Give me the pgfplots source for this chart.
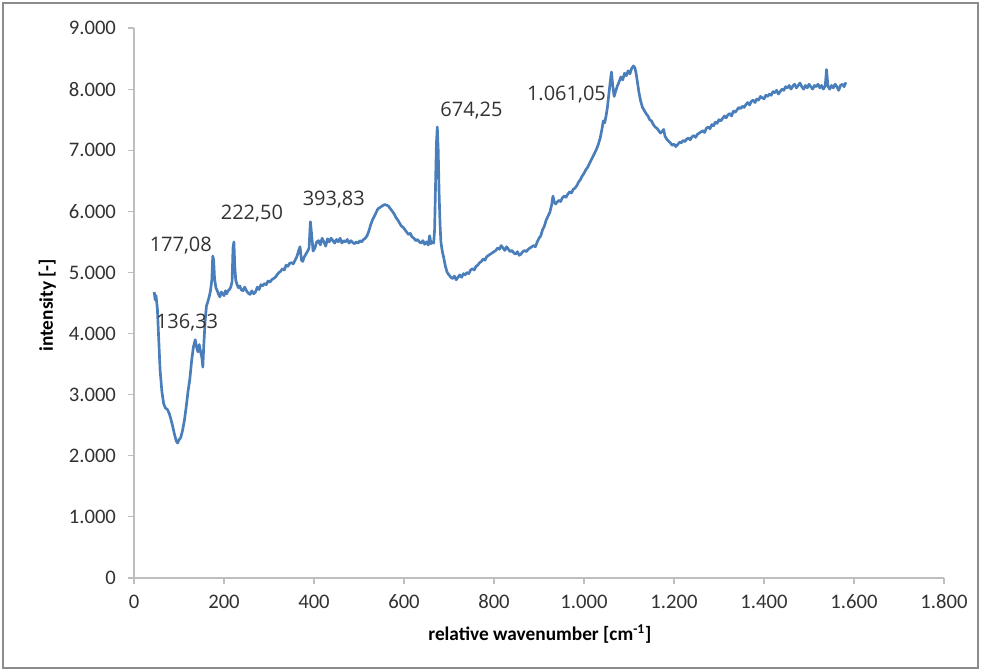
\documentclass[border=0pt]{standalone}
\usepackage{pgfplots}
\pgfplotsset{compat=1.18}
\usepackage{fontspec}
\setmainfont{Carlito}
\newfontfamily\annfont{Open Sans}
\definecolor{excelblue}{RGB}{74,126,187}
\definecolor{axgray}{RGB}{190,190,190}
\definecolor{txt}{RGB}{50,50,50}
\begin{document}
\begin{tikzpicture}
\useasboundingbox (-100.5pt,-69.75pt) rectangle (635.25pt,433.5pt);
\draw[black!45, line width=0.8pt] (-98.25pt,-67.5pt) rectangle (633pt,431.25pt);
\begin{axis}[
  at={(0pt,0pt)}, anchor=origin,
  scale only axis,
  width=607.5pt, height=412.5pt,
  xmin=0, xmax=1800, ymin=0, ymax=9000,
  xtick={0,200,...,1800}, ytick={0,1000,...,9000},
  axis x line*=bottom, axis y line*=left,
  axis line style={axgray, line width=0.8pt, -},
  tick style={axgray, line width=0.8pt},
  tick align=outside, major tick length=4.5pt,
  /pgf/number format/.cd, fixed, use comma, 1000 sep={.}, assume math mode=true,
  /pgfplots/.cd,
  ticklabel style={font=\fontsize{15.5}{18}\selectfont, text=txt},
  yticklabel style={xshift=-5.5pt},
  xticklabel style={yshift=-4.5pt},
  xlabel={relative wavenumber [cm\textsuperscript{-1}]},
  ylabel={intensity [-]},
  label style={font=\bfseries\fontsize{14.5}{17}\selectfont, text=black},
  xlabel style={at={(axis description cs:0.501,-0.102)}, anchor=center},
  ylabel style={at={(axis description cs:-0.107,0.496)}, anchor=center},
  clip=false,
]
\addplot[excelblue, line width=2pt, line join=round] table {
x y
45 4680
47 4550
49 4620
52 4400
55 3900
58 3400
62 3050
66 2850
70 2780
74 2760
78 2700
82 2600
86 2480
90 2350
94 2240
97 2210
100 2260
104 2300
108 2420
112 2580
116 2800
120 3050
124 3250
128 3550
132 3780
136 3900
139 3780
142 3700
145 3820
148 3700
151 3600
153 3450
155 3800
158 4200
161 4450
164 4520
167 4600
170 4700
173 4880
175 5270
177 5200
179 4900
182 4750
185 4700
188 4640
191 4600
194 4680
197 4650
200 4620
203 4700
206 4650
209 4700
212 4720
215 4760
218 4850
220 5400
222 5500
224 5100
226 4880
229 4800
232 4750
235 4780
238 4720
242 4700
246 4760
250 4700
254 4660
258 4640
262 4700
266 4650
270 4680
274 4760
278 4720
282 4800
286 4780
290 4820
294 4800
298 4860
302 4840
306 4880
310 4900
314 4920
318 4960
322 5000
326 5020
330 5060
334 5040
338 5120
342 5100
346 5150
350 5160
354 5140
358 5200
362 5260
366 5360
369 5420
372 5200
375 5180
378 5250
382 5300
386 5350
389 5400
392 5830
395 5600
398 5350
402 5400
406 5500
410 5520
414 5450
418 5560
422 5500
426 5430
430 5550
434 5500
438 5560
442 5520
446 5480
450 5540
454 5500
458 5560
462 5480
466 5520
470 5500
474 5540
478 5480
482 5520
486 5490
490 5470
494 5500
498 5480
502 5520
506 5500
510 5540
514 5560
518 5600
522 5680
526 5780
530 5860
534 5920
538 5980
542 6040
546 6060
550 6080
554 6100
558 6110
562 6100
566 6080
570 6040
574 6000
578 5960
582 5900
586 5860
590 5810
594 5760
598 5740
602 5700
606 5660
610 5620
614 5640
618 5580
622 5560
626 5520
630 5540
634 5500
638 5480
642 5520
646 5460
650 5500
654 5450
657 5600
660 5470
663 5500
666 5480
668 5700
670 6400
672 7100
674 7380
676 7000
678 6300
680 5800
682 5500
685 5350
688 5250
692 5100
696 5000
700 4960
704 4920
708 4900
712 4940
716 4880
720 4920
724 4960
728 4920
732 4980
736 4960
740 5000
744 4980
748 5040
752 5060
756 5040
760 5100
764 5120
768 5160
772 5180
776 5220
780 5200
784 5260
788 5280
792 5300
796 5320
800 5340
804 5360
808 5400
812 5380
816 5440
820 5400
824 5360
828 5420
832 5380
836 5340
840 5360
844 5320
848 5300
852 5340
856 5280
860 5300
864 5340
868 5360
872 5340
876 5380
880 5400
884 5420
888 5440
892 5420
896 5500
900 5560
904 5600
908 5700
912 5760
916 5860
920 5920
924 5980
928 6100
931 6250
934 6150
937 6120
940 6150
944 6180
948 6160
952 6220
956 6250
960 6230
964 6280
968 6320
972 6300
976 6360
980 6380
984 6420
988 6480
992 6520
996 6580
1000 6620
1004 6680
1008 6720
1012 6780
1016 6840
1020 6900
1024 6960
1028 7020
1032 7100
1036 7200
1040 7350
1043 7480
1046 7450
1049 7560
1052 7700
1055 7900
1058 8100
1061 8280
1064 8050
1067 7880
1070 7960
1074 8050
1078 8120
1082 8200
1086 8150
1090 8260
1094 8220
1098 8300
1102 8250
1106 8340
1110 8380
1113 8350
1116 8250
1119 8100
1122 7950
1126 7800
1130 7700
1134 7650
1138 7600
1142 7560
1146 7500
1150 7480
1154 7420
1158 7380
1162 7360
1166 7320
1170 7280
1174 7310
1177 7340
1180 7230
1184 7180
1188 7150
1192 7120
1196 7080
1200 7100
1204 7060
1208 7090
1212 7130
1216 7120
1220 7160
1224 7140
1228 7180
1232 7200
1236 7170
1240 7220
1244 7240
1248 7210
1252 7260
1256 7280
1260 7300
1264 7320
1268 7290
1272 7360
1276 7380
1280 7350
1284 7420
1288 7400
1292 7460
1296 7440
1300 7500
1304 7480
1308 7520
1312 7560
1316 7530
1320 7580
1324 7600
1328 7560
1332 7640
1336 7620
1340 7660
1344 7700
1348 7680
1352 7720
1356 7700
1360 7750
1364 7780
1368 7740
1372 7800
1376 7820
1380 7780
1384 7840
1388 7820
1392 7880
1396 7860
1400 7840
1404 7900
1408 7880
1412 7920
1416 7900
1420 7960
1424 7940
1428 7980
1432 7920
1436 7960
1440 8000
1444 7980
1448 8040
1452 8020
1456 8060
1460 8000
1464 8050
1468 8080
1472 8020
1476 8060
1480 8100
1484 8040
1488 8000
1492 8060
1496 8020
1500 8080
1504 8040
1508 8000
1512 8060
1516 8040
1520 8080
1524 8020
1528 8060
1532 8000
1536 8050
1539 8320
1542 8050
1546 8000
1550 8060
1554 8020
1558 8080
1562 8040
1566 7980
1570 8060
1574 8080
1578 8040
1582 8110
};
\begin{scope}[every node/.style={font=\annfont\fontsize{15}{18}\selectfont, text=txt, inner sep=0pt}]
\node at (axis cs:118,4175) {136,33};
\node at (axis cs:104,5435) {177,08};
\node at (axis cs:262,5960) {222,50};
\node at (axis cs:444,6190) {393,83};
\node at (axis cs:750,7645) {674,25};
\node at (axis cs:961,7907) {1.061,05};
\end{scope}
\end{axis}
\end{tikzpicture}
\end{document}
